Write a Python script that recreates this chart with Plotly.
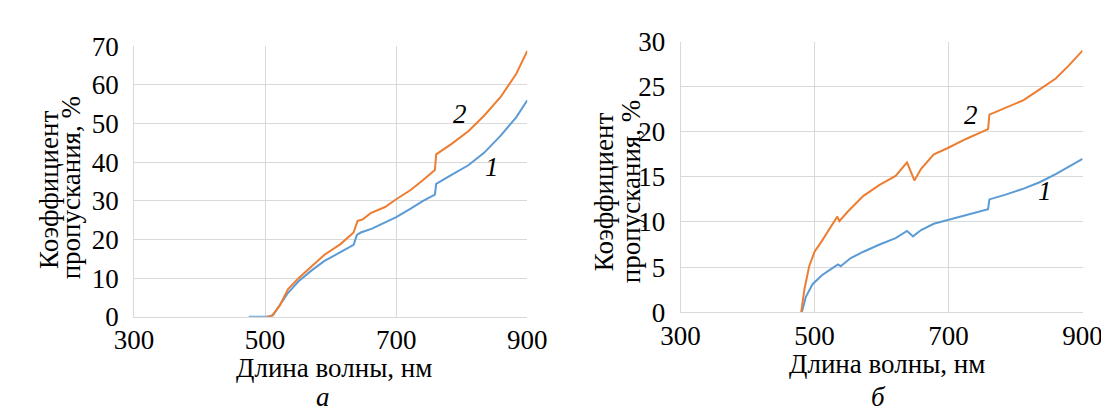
import plotly.graph_objects as go

W, H = 1109, 410

# ---- Panel a ----
a_x1 = [475, 490, 505, 512, 522, 534, 551, 571, 590, 615, 635, 640, 646, 663, 683, 700, 722, 741, 759, 761, 785, 810, 834, 859, 883, 900]
a_y1 = [0, 0, 0, 0.4, 3.0, 6.0, 9.2, 12.0, 14.4, 16.8, 18.6, 21.2, 21.8, 22.8, 24.4, 25.8, 28.0, 30.0, 31.6, 34.4, 36.8, 39.2, 42.4, 46.8, 51.6, 56.0]
a_x2 = [503, 510, 522, 535, 551, 571, 590, 615, 635, 641, 649, 661, 683, 700, 722, 741, 759, 761, 785, 810, 834, 859, 883, 900]
a_y2 = [0, 0.2, 2.8, 7.2, 10.0, 13.2, 16.0, 18.8, 21.8, 24.8, 25.2, 26.8, 28.4, 30.4, 32.8, 35.4, 38.0, 42.0, 44.8, 48.0, 52.0, 56.8, 62.8, 68.8]

# ---- Panel b ----
b_x1 = [481, 487, 497, 511, 525, 535, 539, 554, 573, 597, 621, 638, 647, 659, 678, 699, 726, 759, 761, 784, 812, 836, 860, 879, 900]
b_y1 = [0, 1.7, 3.1, 4.1, 4.8, 5.3, 5.1, 6.0, 6.7, 7.5, 8.2, 9.0, 8.4, 9.1, 9.8, 10.2, 10.8, 11.4, 12.5, 13.0, 13.7, 14.4, 15.3, 16.1, 17.0]
b_x2 = [480, 485, 492, 500, 511, 525, 534, 537, 549, 573, 597, 621, 638, 649, 659, 678, 699, 726, 759, 761, 784, 812, 836, 860, 879, 900]
b_y2 = [0, 2.6, 5.1, 6.7, 7.9, 9.6, 10.6, 10.1, 11.1, 12.9, 14.1, 15.1, 16.6, 14.6, 15.9, 17.5, 18.2, 19.2, 20.3, 21.9, 22.6, 23.5, 24.7, 25.9, 27.3, 29.0]

x_ticks = [300, 500, 700, 900]
a_y_ticks = [0, 10, 20, 30, 40, 50, 60, 70]
b_y_ticks = [0, 5, 10, 15, 20, 25, 30]

x_title = "Длина волны, нм"
y_title_1 = "Коэффициент"
y_title_2 = "пропускания, %"
panel_labels = ["а", "б"]
curve_labels = ["1", "2"]

BLUE = "#5B9BD5"
ORANGE = "#ED7D31"
GRID = "#D9D9D9"
FONT = "Liberation Serif"
FS = 27

fig = go.Figure()
fig.add_trace(go.Scatter(x=a_x1, y=a_y1, mode="lines", line=dict(color=BLUE, width=2), xaxis="x", yaxis="y"))
fig.add_trace(go.Scatter(x=a_x2, y=a_y2, mode="lines", line=dict(color=ORANGE, width=2), xaxis="x", yaxis="y"))
fig.add_trace(go.Scatter(x=b_x1, y=b_y1, mode="lines", line=dict(color=BLUE, width=2), xaxis="x2", yaxis="y2"))
fig.add_trace(go.Scatter(x=b_x2, y=b_y2, mode="lines", line=dict(color=ORANGE, width=2), xaxis="x2", yaxis="y2"))

def px_x(p):
    return p / W

def px_y(p):
    return 1 - p / H

axis_common = dict(showgrid=True, gridcolor=GRID, gridwidth=1, showline=True, linecolor=GRID, linewidth=1,
                   zeroline=False, ticks="", tickfont=dict(family=FONT, size=FS, color="black"))

fig.update_layout(
    width=W, height=H, margin=dict(l=0, r=0, t=0, b=0),
    paper_bgcolor="white", plot_bgcolor="white", showlegend=False,
    font=dict(family=FONT, size=FS, color="black"),
    xaxis=dict(domain=[px_x(110), px_x(518)], range=[300, 900], tickvals=x_ticks, anchor="y",
               ticklabelstandoff=-1, **axis_common),
    yaxis=dict(domain=[px_y(317), px_y(25)], range=[0, 70], tickvals=a_y_ticks, anchor="x",
               ticklabelstandoff=9, **axis_common),
    xaxis2=dict(domain=[px_x(677), px_x(1094)], range=[300, 900], tickvals=x_ticks, anchor="y2",
                ticklabelstandoff=-1, **axis_common),
    yaxis2=dict(domain=[px_y(312), px_y(20)], range=[0, 30], tickvals=b_y_ticks, anchor="x2",
                ticklabelstandoff=9, **axis_common),
)

ann = []
def paper_ann(text, x, y, angle=0, italic=False):
    ann.append(dict(text=f"<i>{text}</i>" if italic else text, x=px_x(x), y=px_y(y), xref="paper", yref="paper",
                    xanchor="center", yanchor="middle", showarrow=False, textangle=angle, borderpad=0,
                    font=dict(family=FONT, size=FS, color="black")))

paper_ann(x_title, 317, 372)
paper_ann(x_title, 891, 368)
paper_ann(y_title_1, 22, 180, -90)
paper_ann(y_title_2, 45, 178, -90)
paper_ann(y_title_1, 597, 182, -90)
paper_ann(y_title_2, 625, 182, -90)
paper_ann(panel_labels[0], 306, 403, italic=True)
paper_ann(panel_labels[1], 882, 403, italic=True)

def data_ann(text, x, y, xr, yr):
    ann.append(dict(text=f"<i>{text}</i>", x=x, y=y, xref=xr, yref=yr, xanchor="center", yanchor="middle",
                    showarrow=False, borderpad=0, font=dict(family=FONT, size=FS, color="black")))

data_ann(curve_labels[1], 798, 52.4, "x", "y")
data_ann(curve_labels[0], 846, 38.8, "x", "y")
data_ann(curve_labels[1], 733, 21.9, "x2", "y2")
data_ann(curve_labels[0], 844, 13.4, "x2", "y2")

fig.update_layout(annotations=ann)
fig.write_html("out.html")
